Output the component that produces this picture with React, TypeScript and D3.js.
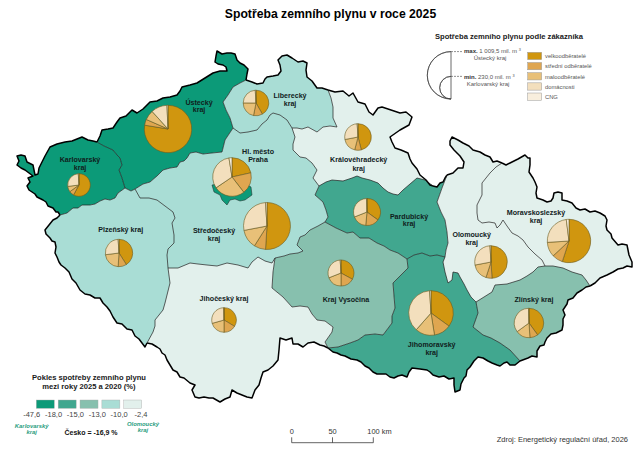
import { useRef, useEffect } from 'react';
import * as d3 from 'd3';

type Pt = [number, number];

const customers = ['velkoodběratelé', 'střední odběratelé', 'maloodběratelé', 'domácnosti', 'CNG'];
const customerColors = ['#d0960f', '#dfa650', '#e8c078', '#f3dfbd', '#f8eedd'];

// mil. m3
const totals: Record<string, number> = {
    ustecky: 1009.5, karlovarsky: 230, liberecky: 294, praha: 669, stredocesky: 990, plzensky: 337, jihocesky: 272,
    kralovehradecky: 318, pardubicky: 327, vysocina: 304, jihomoravsky: 894, zlinsky: 388, olomoucky: 477, moravskoslezsky: 846,
};

// podil zakazniku v %, poradi jako customers
const shares: Record<string, number[]> = {
    ustecky: [77.6, 4, 6.7, 11, 0.7],
    karlovarsky: [58, 7, 8, 26, 1],
    liberecky: [41.7, 11.4, 22, 24, 0.9],
    praha: [21.5, 18, 26, 32, 2.5],
    stredocesky: [51, 8, 13, 27, 1],
    plzensky: [41, 10, 22, 26, 1],
    jihocesky: [33.6, 16.4, 20.6, 29, 0.4],
    kralovehradecky: [46, 8, 18, 27, 1],
    pardubicky: [35, 16.5, 17.5, 30.5, 0.5],
    vysocina: [33, 17, 19, 30, 1],
    jihomoravsky: [35, 12.5, 14, 37.5, 1],
    zlinsky: [40, 9, 16, 34.5, 0.5],
    olomoucky: [49, 6, 17, 27, 1],
    moravskoslezsky: [55, 8, 11, 24, 2],
};

// pokles 2025/2020 v %
const decline: Record<string, number> = {
    karlovarsky: -47.6, ustecky: -30, praha: -20, pardubicky: -17, jihomoravsky: -16.5, zlinsky: -14.5, vysocina: -14,
    stredocesky: -12, plzensky: -11.5, liberecky: -11, kralovehradecky: -8, jihocesky: -7, moravskoslezsky: -6, olomoucky: -2.4,
};

const classBreaks = [-18, -15, -13, -10];
const classColors = ['#0c9a78', '#41a78f', '#87c0ae', '#a9ddd5', '#e2f0ec'];
const classTicks = ['-47,6', '-18,0', '-15,0', '-13,0', '-10,0', '-2,4'];

// hranice krajů v souradnicich obrazku
const arcs: Record<string, Pt[]> = {
    nKW: [[60, 215], [58, 212], [56, 212], [53, 208], [48, 206], [46, 202], [43, 200], [37, 197], [35, 194], [32, 192], [29, 190], [27, 186], [30, 182], [28, 178], [33, 176], [29, 173], [25, 170], [21, 168], [17, 165], [19, 161], [17, 156], [21, 155], [25, 156], [27, 162], [33, 165], [34, 170], [35, 175], [38, 174], [39, 168], [42, 162], [45, 156], [50, 147], [57, 144], [65, 142], [72, 141], [77, 139], [82, 137], [88, 140], [93, 141], [97, 142]],
    nU: [[97, 142], [100, 136], [102, 130], [108, 129], [113, 128], [117, 122], [120, 118], [126, 116], [129, 113], [132, 110], [137, 113], [143, 109], [150, 102], [157, 101], [163, 98], [170, 97], [177, 95], [180, 91], [182, 87], [190, 85], [197, 83], [205, 78], [213, 73], [220, 71], [227, 71], [226, 67], [223, 65], [218, 64], [215, 62], [216, 56], [217, 51], [222, 54], [227, 53], [231, 53], [235, 54], [237, 60], [240, 63], [244, 65], [248, 69], [247, 74], [246, 80]],
    nL: [[246, 80], [252, 82], [257, 84], [263, 83], [265, 79], [267, 77], [273, 76], [278, 75], [281, 71], [280, 65], [278, 60], [282, 56], [287, 55], [292, 58], [298, 62], [303, 61], [307, 63], [306, 70], [307, 77], [312, 81], [317, 88], [322, 88], [328, 90]],
    nH: [[328, 90], [335, 92], [343, 91], [349, 96], [353, 93], [358, 102], [365, 104], [369, 112], [373, 115], [378, 108], [382, 107], [391, 110], [400, 113], [406, 112], [412, 117], [409, 125], [400, 130], [390, 137], [392, 142], [395, 148], [401, 150], [408, 153], [410, 159], [412, 163], [417, 169], [420, 175], [426, 180], [430, 185], [433, 186]],
    nP: [[433, 186], [437, 187], [440, 183], [443, 182], [445, 178], [447, 175]],
    nO: [[447, 175], [453, 173], [458, 168], [463, 168], [464, 162], [460, 156], [454, 150], [450, 145], [450, 141], [452, 137], [458, 140], [463, 143], [469, 146], [473, 150], [480, 152], [485, 155], [490, 157], [493, 162], [497, 161], [502, 163]],
    nM: [[502, 163], [506, 165], [510, 163], [518, 159], [525, 155], [528, 158], [530, 158], [530, 165], [529, 172], [533, 178], [535, 182], [537, 187], [536, 193], [537, 198], [543, 200], [547, 202], [551, 201], [553, 198], [554, 193], [558, 192], [562, 193], [562, 200], [567, 201], [572, 203], [576, 208], [580, 210], [585, 209], [590, 212], [595, 211], [600, 213], [605, 216], [607, 220], [606, 226], [607, 230], [611, 234], [612, 238], [618, 245], [622, 244], [627, 245], [628, 250], [629, 255], [632, 262], [632, 267], [627, 266], [623, 268], [618, 269], [613, 272], [607, 275], [600, 278], [595, 283], [590, 286]],
    nZ: [[590, 286], [586, 287], [582, 290], [577, 293], [573, 298], [568, 300], [567, 304], [563, 310], [565, 315], [563, 319], [563, 325], [562, 330], [556, 333], [551, 334], [547, 338], [545, 342], [544, 345], [540, 346], [537, 351], [537, 357], [532, 356], [528, 358], [520, 361]],
    nJ: [[520, 361], [515, 365], [510, 365], [507, 362], [504, 363], [500, 366], [497, 365], [492, 363], [488, 361], [483, 358], [478, 357], [474, 361], [470, 367], [467, 370], [466, 376], [464, 378], [461, 384], [460, 390], [455, 392], [454, 385], [454, 378], [449, 379], [444, 376], [439, 377], [433, 375], [430, 372], [427, 370], [420, 369], [412, 368], [409, 372], [407, 377], [402, 375], [398, 376], [394, 378], [390, 377], [386, 374], [382, 374], [377, 374], [373, 372], [369, 368], [365, 366], [361, 362], [357, 360], [351, 359], [345, 356], [341, 355], [337, 353], [333, 352], [328, 348]],
    nC: [[328, 348], [324, 346], [320, 345], [314, 342], [308, 343], [303, 347], [298, 344], [293, 344], [292, 338], [286, 340], [280, 338], [279, 350], [278, 360], [273, 366], [268, 370], [263, 372], [261, 378], [259, 385], [255, 390], [252, 398], [247, 397], [242, 395], [237, 393], [232, 390], [230, 397], [225, 399], [220, 402], [213, 398], [209, 398], [204, 397], [199, 398], [195, 397], [192, 390], [195, 385], [190, 383], [184, 378], [180, 377], [177, 372], [173, 370], [170, 365], [167, 360], [165, 355], [162, 353], [160, 349], [157, 347], [152, 344], [147, 343]],
    nPl: [[147, 343], [145, 347], [142, 343], [139, 339], [135, 336], [132, 330], [127, 329], [122, 324], [117, 323], [113, 317], [110, 311], [107, 307], [103, 303], [100, 298], [95, 298], [90, 295], [85, 294], [80, 290], [76, 283], [72, 279], [69, 272], [65, 268], [61, 265], [59, 262], [57, 257], [55, 253], [56, 247], [55, 242], [52, 241], [50, 238], [46, 234], [45, 230], [49, 225], [53, 220], [57, 218], [60, 215]],
    kU: [[97, 142], [104, 146], [113, 150], [117, 155], [120, 158], [122, 165], [119, 170], [122, 178], [125, 188]],
    kPl: [[125, 188], [118, 193], [115, 198], [110, 200], [105, 199], [100, 201], [95, 204], [90, 205], [82, 205], [78, 208], [73, 208], [67, 213], [60, 215]],
    uPl: [[125, 188], [131, 191], [135, 189]],
    uL: [[246, 80], [240, 83], [233, 87], [228, 95], [223, 102], [226, 110], [230, 118], [233, 128]],
    uSt: [[233, 128], [229, 134], [225, 140], [222, 152], [212, 153], [203, 154], [196, 152], [190, 153], [187, 158], [184, 161], [180, 162], [177, 167], [170, 168], [163, 170], [157, 176], [150, 182], [143, 184], [135, 189]],
    lSt: [[233, 128], [240, 133], [248, 132], [257, 130], [262, 124], [267, 120], [270, 115], [273, 113], [280, 115], [287, 120], [292, 128]],
    lH: [[328, 90], [331, 98], [333, 107], [333, 118], [337, 127], [330, 126], [323, 127], [317, 132], [308, 127], [302, 129], [297, 128], [292, 128]],
    hSt: [[292, 128], [295, 137], [293, 144], [293, 150], [300, 157], [306, 158], [312, 163], [317, 170], [313, 178], [319, 186]],
    hP: [[433, 186], [425, 180], [417, 178], [410, 184], [403, 190], [398, 195], [393, 194], [388, 192], [383, 188], [378, 183], [370, 180], [362, 178], [357, 176], [352, 178], [343, 181], [332, 180], [326, 182], [319, 186]],
    pSt: [[319, 186], [315, 195], [323, 202], [326, 210], [328, 217], [325, 222]],
    stV: [[325, 222], [318, 226], [310, 230], [305, 235], [300, 237], [297, 245], [303, 251], [298, 253], [290, 254], [284, 256], [275, 258]],
    stC: [[275, 258], [272, 263], [265, 261], [258, 257], [252, 262], [248, 268], [238, 265], [227, 263], [217, 266], [207, 265], [198, 264], [190, 263], [178, 268], [168, 268]],
    plSt: [[135, 189], [140, 198], [149, 198], [157, 200], [165, 206], [173, 212], [175, 218], [172, 223], [174, 235], [174, 243], [168, 249], [167, 255], [168, 268]],
    plC: [[168, 268], [170, 283], [167, 295], [165, 303], [163, 310], [155, 320], [155, 326], [153, 332], [147, 343]],
    vC: [[275, 258], [273, 272], [272, 288], [283, 297], [292, 307], [300, 306], [308, 307], [312, 314], [317, 320], [325, 321], [333, 327], [332, 332], [325, 342], [328, 348]],
    vP: [[325, 222], [336, 228], [347, 233], [353, 232], [360, 238], [369, 238], [377, 243], [384, 246], [390, 250], [398, 253], [407, 259]],
    vJ: [[407, 259], [408, 268], [401, 275], [393, 283], [394, 296], [395, 308], [392, 316], [392, 323], [383, 335], [375, 334], [365, 335], [358, 340], [350, 343], [338, 347], [328, 348]],
    pJ: [[407, 259], [414, 255], [422, 253], [430, 256], [437, 255], [445, 257]],
    pO: [[447, 175], [442, 188], [437, 202], [441, 212], [445, 220], [447, 232], [448, 243], [446, 250], [445, 257]],
    oJ: [[445, 257], [443, 262], [445, 272], [448, 283], [452, 280], [453, 272], [458, 273], [460, 277], [464, 284], [467, 290], [471, 297], [476, 302]],
    oZ: [[476, 302], [484, 297], [492, 292], [495, 285], [507, 284], [520, 280], [527, 276], [533, 272], [538, 267], [545, 266]],
    oM: [[502, 163], [496, 167], [490, 173], [486, 178], [482, 183], [482, 195], [477, 205], [477, 213], [478, 220], [482, 223], [489, 222], [495, 223], [497, 228], [500, 225], [503, 220], [507, 226], [512, 233], [518, 236], [523, 240], [528, 247], [535, 254], [542, 260], [545, 266]],
    mZ: [[545, 266], [553, 266], [563, 268], [572, 272], [582, 275], [586, 280], [590, 286]],
    jZ: [[476, 302], [478, 313], [473, 327], [483, 335], [491, 338], [500, 343], [510, 350], [520, 361]],
};

const nationalArcs = ['nKW', 'nU', 'nL', 'nH', 'nP', 'nO', 'nM', 'nZ', 'nJ', 'nC', 'nPl'];
const prahaRing: Pt[] = [[212, 185], [214, 192], [220, 195], [222, 200], [227, 205], [230, 200], [235, 199], [240, 201], [245, 200], [252, 195], [251, 187], [240, 180], [225, 180]];

const regionRings: Record<string, string[]> = {
    karlovarsky: ['nKW', 'kU', 'kPl'],
    ustecky: ['nU', 'uL', 'uSt', '-uPl', '-kU'],
    liberecky: ['nL', 'lH', '-lSt', '-uL'],
    kralovehradecky: ['nH', 'hP', '-hSt', '-lH'],
    pardubicky: ['nP', 'pO', '-pJ', '-vP', '-pSt', '-hP'],
    olomoucky: ['nO', 'oM', '-oZ', '-oJ', '-pO'],
    moravskoslezsky: ['nM', '-mZ', '-oM'],
    zlinsky: ['mZ', 'nZ', '-jZ', 'oZ'],
    jihomoravsky: ['pJ', 'oJ', 'jZ', 'nJ', '-vJ'],
    vysocina: ['vP', 'vJ', '-vC', '-stV'],
    jihocesky: ['vC', 'nC', '-plC', '-stC'],
    plzensky: ['-kPl', 'uPl', 'plSt', 'plC', 'nPl'],
    stredocesky: ['-uSt', 'lSt', 'hSt', 'pSt', 'stV', 'stC', '-plSt'],
};

const pieAnchors: Record<string, Pt> = {
    ustecky: [168, 129], karlovarsky: [79, 185], liberecky: [256, 103], praha: [232, 177], stredocesky: [267, 226],
    plzensky: [119, 253], jihocesky: [224, 320], kralovehradecky: [358, 137], pardubicky: [367, 212], vysocina: [341, 273],
    jihomoravsky: [431, 313], zlinsky: [529, 323], olomoucky: [491, 262], moravskoslezsky: [569, 241],
};

const regionLabels: [string, number, number][] = [
    ['Ústecký', 199, 104.7], ['kraj', 199, 112.4],
    ['Karlovarský', 80, 162.3], ['kraj', 80, 170.3],
    ['Liberecký', 290, 98], ['kraj', 290, 105.7],
    ['Hl. město', 258, 153.7], ['Praha', 258, 161.7],
    ['Královéhradecký', 358.7, 162.3], ['kraj', 358.7, 170.7],
    ['Středočeský', 214, 233], ['kraj', 214, 240.7],
    ['Plzeňský kraj', 120.7, 232.3],
    ['Jihočeský kraj', 224, 301],
    ['Pardubický', 409, 218.7], ['kraj', 409, 226.3],
    ['Kraj Vysočina', 346, 301.7],
    ['Jihomoravský', 431.7, 347], ['kraj', 431.7, 355],
    ['Zlínský kraj', 534, 302.3],
    ['Olomoucký', 471.7, 237.3], ['kraj', 471.7, 245.3],
    ['Moravskoslezský', 536, 214.7], ['kraj', 536, 222.7],
];

const scaleTicks = [0, 50, 100];
const font = '"Liberation Sans", Arial, sans-serif';

function ringOf(parts: string[]): Pt[] {
    const ring: Pt[] = [];
    parts.forEach((p) => {
        const rev = p.startsWith('-');
        const a = arcs[rev ? p.slice(1) : p];
        ring.push(...(rev ? [...a].reverse() : a));
    });
    return ring;
}

export default function App() {
    const ref = useRef<SVGSVGElement>(null);

    useEffect(() => {
        if (!ref.current) return;
        const svg = d3.select(ref.current);
        svg.selectAll('*').remove();

        const path = d3.geoPath(d3.geoIdentity());
        const color = d3.scaleThreshold<number, string>().domain(classBreaks).range(classColors);
        const radius = d3.scaleSqrt().domain([0, 1009.5]).range([0, 23.7]);
        const line = d3.line();

        const txt = (x: number, y: number, s: string, size: number, anchor = 'start', weight = 'normal', fill = '#111') =>
            svg.append('text').attr('x', x).attr('y', y).attr('font-size', size).attr('text-anchor', anchor)
                .attr('font-weight', weight).attr('fill', fill).text(s);

        // kraje
        Object.keys(regionRings).forEach((k) => {
            svg.append('path')
                .attr('d', path({ type: 'Polygon', coordinates: [ringOf(regionRings[k])] } as any))
                .attr('fill', color(decline[k]));
        });
        svg.append('path')
            .attr('d', path({ type: 'Polygon', coordinates: [prahaRing] } as any))
            .attr('fill', color(decline.praha))
            .attr('stroke', '#222').attr('stroke-width', 0.5);

        Object.keys(arcs).forEach((k) => {
            const nat = nationalArcs.includes(k);
            svg.append('path').attr('d', line(arcs[k])).attr('fill', 'none')
                .attr('stroke', nat ? '#000' : '#1c1c1c')
                .attr('stroke-width', nat ? 1.5 : 0.7)
                .attr('stroke-linejoin', 'round');
        });

        // kolace
        const pie = d3.pie<number>().sort(null);
        Object.keys(pieAnchors).forEach((k) => {
            const r = radius(totals[k]);
            const arc = d3.arc<d3.PieArcDatum<number>>().innerRadius(0).outerRadius(r);
            const g = svg.append('g').attr('transform', `translate(${pieAnchors[k][0]},${pieAnchors[k][1]})`);
            g.selectAll('path').data(pie(shares[k])).enter().append('path')
                .attr('d', arc)
                .attr('fill', (d, i) => customerColors[i])
                .attr('stroke', '#6a5a20')
                .attr('stroke-width', 0.6);
        });

        regionLabels.forEach(([s, x, y]) => txt(x, y, s, 7.1, 'middle', 'bold', '#10201c'));

        txt(330.5, 18, 'Spotřeba zemního plynu v roce 2025', 12.2, 'middle', 'bold', '#000');

        // legenda velikosti
        txt(509, 39, 'Spotřeba zemního plynu podle zákazníka', 7.6, 'middle', 'bold', '#1a1a1a');
        const lx = 451;
        const ly = 99;
        [1009.5, 230].forEach((v) => {
            const r = radius(v);
            svg.append('path')
                .attr('d', d3.arc()({ innerRadius: r, outerRadius: r, startAngle: Math.PI, endAngle: 2 * Math.PI } as any))
                .attr('transform', `translate(${lx},${ly - r})`)
                .attr('fill', 'none').attr('stroke', '#444').attr('stroke-width', 0.7);
            svg.append('line').attr('x1', lx).attr('x2', 463).attr('y1', ly - 2 * r).attr('y2', ly - 2 * r)
                .attr('stroke', '#444').attr('stroke-width', 0.6).attr('stroke-dasharray', '2 1');
        });
        svg.append('line').attr('x1', lx).attr('x2', lx).attr('y1', ly - 2 * radius(1009.5)).attr('y2', ly)
            .attr('stroke', '#444').attr('stroke-width', 0.8);

        const lead = (y: number, b: string, s: string) => {
            const t = txt(464, y, '', 6, 'start', 'normal', '#555');
            t.append('tspan').attr('font-weight', 'bold').attr('fill', '#333').text(b + ' ');
            t.append('tspan').text(s);
            t.append('tspan').attr('font-size', 3.8).attr('dy', -2).text('3');
        };
        lead(53, 'max.', '1 009,5 mil. m ');
        txt(490, 60, 'Ústecký kraj', 6, 'middle', 'normal', '#555');
        lead(79, 'min.', '230,0 mil. m ');
        txt(488, 86, 'Karlovarský kraj', 6, 'middle', 'normal', '#555');

        const custY = d3.scalePoint<string>().domain(customers).range([52.3, 93]);
        customers.forEach((c, i) => {
            svg.append('rect').attr('x', 527.7).attr('y', custY(c)!).attr('width', 14).attr('height', 7.3)
                .attr('fill', customerColors[i]).attr('stroke', '#999').attr('stroke-width', 0.5);
            txt(545, custY(c)! + 6, c, 5.8, 'start', 'normal', '#555');
        });

        // legenda poklesu
        txt(89, 380, 'Pokles spotřeby zemního plynu', 7.6, 'middle', 'bold', '#1a1a1a');
        txt(89, 389, 'mezi roky 2025 a 2020 (%)', 7.6, 'middle', 'bold', '#1a1a1a');
        const classX = d3.scaleLinear().domain([0, 5]).range([31.7, 141]);
        classColors.forEach((c, i) => {
            svg.append('rect').attr('x', classX(i) + 4.6).attr('y', 400).attr('width', 18).attr('height', 8.3)
                .attr('fill', c).attr('stroke', '#aaa').attr('stroke-width', 0.4);
        });
        classTicks.forEach((t, i) => txt(classX(i), 417, t, 7.5, 'middle', 'normal', '#444'));
        const green = '#2a9d80';
        [['Karlovarský', 31.7, 427.7], ['kraj', 31.7, 434.4], ['Olomoucký', 143, 425.7], ['kraj', 143, 432.4]].forEach(([s, x, y]) =>
            txt(x as number, y as number, s as string, 5.9, 'middle', 'bold', green).attr('font-style', 'italic'));
        txt(91, 435, 'Česko = -16,9 %', 7, 'middle', 'bold', '#111');

        // meritko
        const km = d3.scaleLinear().domain([0, 100]).range([291.7, 373.3]);
        svg.append('line').attr('x1', km(0)).attr('x2', km(100)).attr('y1', 442.7).attr('y2', 442.7)
            .attr('stroke', '#222').attr('stroke-width', 0.7);
        scaleTicks.forEach((t) => {
            svg.append('line').attr('x1', km(t)).attr('x2', km(t)).attr('y1', 437.3).attr('y2', 442.7)
                .attr('stroke', '#222').attr('stroke-width', 0.7);
            txt(km(t) - (t === 100 ? 6 : 0), 433.5, t === 100 ? '100 km' : String(t), 7.4, t === 100 ? 'start' : 'middle', 'normal', '#333');
        });

        txt(628, 442, 'Zdroj: Energetický regulační úřad, 2026', 7.5, 'end', 'normal', '#333');
    }, []);

    return (
        <svg
            ref={ref}
            width={642}
            height={454}
            style={{ position: 'absolute', left: 0, top: 0, display: 'block', background: '#fff', fontFamily: font }}
        />
    );
}
